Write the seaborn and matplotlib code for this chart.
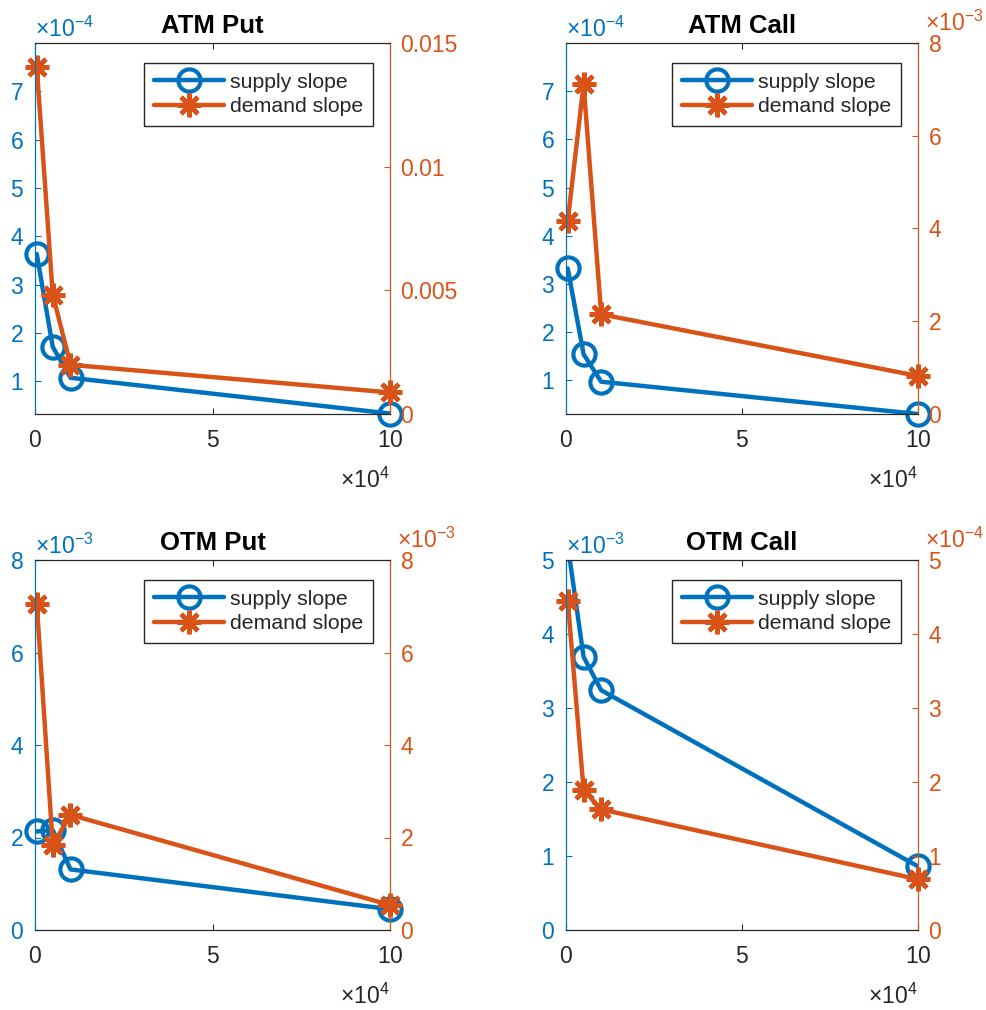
import numpy as np
import pandas as pd
import matplotlib
matplotlib.use("Agg")
import matplotlib.pyplot as plt
import seaborn as sns
from matplotlib.ticker import ScalarFormatter, FormatStrFormatter
from matplotlib.lines import Line2D

sns.set_style("ticks")
plt.rcParams["font.family"] = ["Liberation Sans", "DejaVu Sans"]
plt.rcParams["mathtext.fontset"] = "custom"
plt.rcParams["mathtext.rm"] = "Liberation Sans"
plt.rcParams["mathtext.it"] = "Liberation Sans:italic"
plt.rcParams["mathtext.bf"] = "Liberation Sans:bold"

# Order size (x) shared by all panels
volume = [500, 5000, 10000, 100000]

panel_titles = ["ATM Put", "ATM Call", "OTM Put", "OTM Call"]

supply_atm_put = [3.63e-4, 1.71e-4, 1.07e-4, 0.33e-4]
demand_atm_put = [1.402e-2, 4.83e-3, 1.99e-3, 0.87e-3]

supply_atm_call = [3.32e-4, 1.54e-4, 0.97e-4, 0.30e-4]
demand_atm_call = [4.17e-3, 7.11e-3, 2.15e-3, 0.82e-3]

supply_otm_put = [2.13e-3, 2.16e-3, 1.31e-3, 0.45e-3]
demand_otm_put = [7.05e-3, 1.84e-3, 2.49e-3, 0.54e-3]

supply_otm_call = [5.2e-3, 3.69e-3, 3.24e-3, 0.86e-3]
demand_otm_call = [4.45e-4, 1.89e-4, 1.63e-4, 0.685e-4]

supply_series = [supply_atm_put, supply_atm_call, supply_otm_put, supply_otm_call]
demand_series = [demand_atm_put, demand_atm_call, demand_otm_put, demand_otm_call]

# Axis ranges and ticks (left = supply, right = demand)
left_limits = [(0.32e-4, 8.0e-4), (0.30e-4, 8.0e-4), (0, 8e-3), (0, 5e-3)]
left_ticks = [[1e-4, 2e-4, 3e-4, 4e-4, 5e-4, 6e-4, 7e-4],
              [1e-4, 2e-4, 3e-4, 4e-4, 5e-4, 6e-4, 7e-4],
              [0, 2e-3, 4e-3, 6e-3, 8e-3],
              [0, 1e-3, 2e-3, 3e-3, 4e-3, 5e-3]]
left_exp = [-4, -4, -3, -3]
right_limits = [(0, 0.015), (0, 8e-3), (0, 8e-3), (0, 5e-4)]
right_ticks = [[0, 0.005, 0.01, 0.015],
               [0, 2e-3, 4e-3, 6e-3, 8e-3],
               [0, 2e-3, 4e-3, 6e-3, 8e-3],
               [0, 1e-4, 2e-4, 3e-4, 4e-4, 5e-4]]
right_exp = [None, -3, -3, -4]
x_ticks = [0, 50000, 100000]

BLUE = "#0072BD"
ORANGE = "#D95319"
DARK = "#262626"

W, H = 987, 1010
fig = plt.figure(figsize=(W / 100, H / 100), dpi=100)
fig.patch.set_facecolor("white")

boxes = [(35, 390, 43, 414), (566, 918, 43, 414),
         (35, 390, 560, 930), (566, 918, 560, 930)]

LW = 3.2
asterisk = (8, 2, 0)
circle_kw = dict(marker="o", markersize=16, markerfacecolor="none",
                 markeredgecolor=BLUE, markeredgewidth=3)
star_kw = dict(marker=asterisk, markersize=17, markerfacecolor=ORANGE,
               markeredgecolor=ORANGE, markeredgewidth=3.2)

TICK_FS = 16.5
TITLE_FS = 18.5
LEGEND_FS = 15.3


def sci_formatter(exp):
    f = ScalarFormatter(useMathText=True)
    f.set_powerlimits((exp, exp))
    return f


for i, title in enumerate(panel_titles):
    x0, x1, y0, y1 = boxes[i]
    ax = fig.add_axes([x0 / W, 1 - y1 / H, (x1 - x0) / W, (y1 - y0) / H])
    ax2 = ax.twinx()

    sup = pd.DataFrame({"volume": volume, "slope": supply_series[i]})
    dem = pd.DataFrame({"volume": volume, "slope": demand_series[i]})

    lo, hi = left_limits[i]
    rlo, rhi = right_limits[i]

    sns.lineplot(data=sup, x="volume", y="slope", ax=ax, color=BLUE, lw=LW)
    sup_in = sup[(sup["slope"] >= lo) & (sup["slope"] <= hi * 1.0001)]
    sns.lineplot(data=sup_in, x="volume", y="slope", ax=ax, color=BLUE,
                 linestyle="none", clip_on=False, **circle_kw)

    sns.lineplot(data=dem, x="volume", y="slope", ax=ax2, color=ORANGE, lw=LW)
    dem_in = dem[(dem["slope"] >= rlo) & (dem["slope"] <= rhi * 1.0001)]
    sns.lineplot(data=dem_in, x="volume", y="slope", ax=ax2, color=ORANGE,
                 linestyle="none", clip_on=False, **star_kw)

    ax.set_xlim(0, 100000)
    ax.set_ylim(lo, hi)
    ax2.set_ylim(rlo, rhi)
    ax.set_xticks(x_ticks)
    ax.set_yticks(left_ticks[i])
    ax2.set_yticks(right_ticks[i])

    ax.xaxis.set_major_formatter(sci_formatter(4))
    ax.yaxis.set_major_formatter(sci_formatter(left_exp[i]))
    if right_exp[i] is None:
        ax2.yaxis.set_major_formatter(FormatStrFormatter("%g"))
    else:
        ax2.yaxis.set_major_formatter(sci_formatter(right_exp[i]))

    ax.set_xlabel("")
    ax.set_ylabel("")
    ax2.set_ylabel("")

    ax.tick_params(axis="x", which="both", direction="in", top=True, bottom=True,
                   length=4, width=0.8, color=DARK, labelcolor=DARK,
                   labelsize=TICK_FS, pad=11)
    ax.tick_params(axis="y", direction="in", left=True, right=False,
                   length=4, width=0.8, color=BLUE, labelcolor=BLUE,
                   labelsize=TICK_FS, pad=8)
    ax2.tick_params(axis="y", direction="in", right=True, left=False,
                    length=4, width=0.8, color=ORANGE, labelcolor=ORANGE,
                    labelsize=TICK_FS, pad=7)

    for a in (ax, ax2):
        a.spines["top"].set_color(DARK)
        a.spines["bottom"].set_color(DARK)
        a.spines["left"].set_color(BLUE)
        a.spines["right"].set_color(ORANGE)
        for s in a.spines.values():
            s.set_linewidth(0.8)

    # exponent labels
    ax.xaxis.OFFSETTEXTPAD = 11
    ax.yaxis.OFFSETTEXTPAD = 4.5
    ax2.yaxis.OFFSETTEXTPAD = 9
    xo = ax.xaxis.get_offset_text()
    xo.set_fontsize(TICK_FS)
    xo.set_color(DARK)
    yo = ax.yaxis.get_offset_text()
    yo.set_fontsize(TICK_FS)
    yo.set_color(BLUE)
    ro = ax2.yaxis.get_offset_text()
    ro.set_fontsize(TICK_FS)
    ro.set_color(ORANGE)
    ro.set_horizontalalignment("left")
    ro.set_x(1.02)

    ax.set_title(title, fontsize=TITLE_FS, fontweight="bold", color="black", pad=7)

    handles = [
        Line2D([], [], color=BLUE, lw=LW, **circle_kw),
        Line2D([], [], color=ORANGE, lw=LW, **star_kw),
    ]
    leg = ax2.legend(handles, ["supply slope", "demand slope"],
                     loc="upper right", bbox_to_anchor=(0.952, 0.946),
                     borderaxespad=0, fontsize=LEGEND_FS, frameon=True,
                     fancybox=False, framealpha=1, edgecolor=DARK,
                     handlelength=3.3, handletextpad=0.3, borderpad=0.45,
                     labelspacing=0.26)
    leg.get_frame().set_linewidth(1.0)

fig.savefig("out.png", dpi=100, facecolor="white")
